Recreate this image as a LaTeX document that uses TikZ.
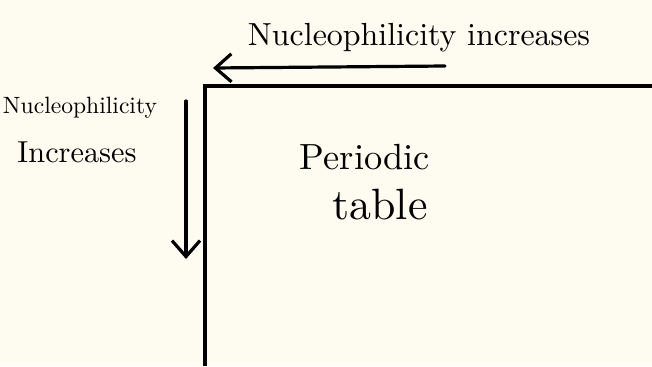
\documentclass[tikz,border=0pt]{standalone}
\usetikzlibrary{arrows.meta}
\definecolor{paper}{HTML}{FEFCF0}
\tikzset{
  ink/.style={line width=3.2bp, black, line cap=round},
  barb/.style={-{Straight Barb[length=16bp,width=28bp,line width=3.2bp]}},
  hand/.style={inner sep=0pt, anchor=center}
}
\begin{document}
\begin{tikzpicture}[x=1bp,y=-1bp]
\fill[paper] (0,0) rectangle (652,366);
\useasboundingbox (0,0) rectangle (652,366);
% table border
\coordinate (tl) at (205,86);
\coordinate (tr) at (652,86);
\coordinate (bl) at (205,366);
\draw[ink, line cap=butt] (tr) -- (tl) -- (bl);
% top arrow
\coordinate (ha) at (445,66);
\coordinate (hb) at (213,68);
\draw[ink, barb] (ha) -- (hb);
% left arrow
\coordinate (va) at (186,101);
\coordinate (vb) at (186,259);
\draw[ink, barb] (va) -- (vb);
% texts
\node[hand] (top) at (419,38) {\resizebox{342bp}{!}{Nucleophilicity increases}};
\node[hand] (l1) at (80,108) {\resizebox{154bp}{!}{Nucleophilicity}};
\node[hand] (l2) at (77,152) {\resizebox{119bp}{!}{Increases}};
\node[hand] (p1) at (365,157) {\resizebox{130bp}{!}{Periodic}};
\node[hand] (p2) at (380,205) {\resizebox{95bp}{!}{table}};
\end{tikzpicture}
\end{document}
